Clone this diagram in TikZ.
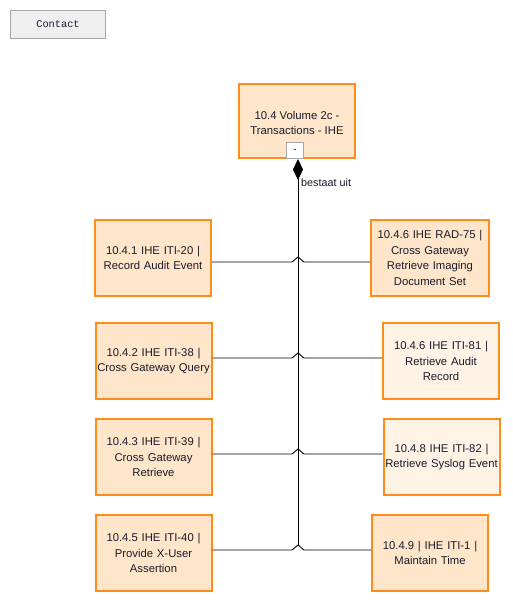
\documentclass[tikz,border=0pt]{standalone}
\usepackage{fontspec}
\setmainfont{Liberation Sans}
\setmonofont{Liberation Mono}
\usetikzlibrary{arrows.meta}
\definecolor{boxorange}{HTML}{FF8C1A}
\definecolor{boxfill}{HTML}{FFE6CA}
\definecolor{boxlight}{HTML}{FFF3E6}
\definecolor{contactfill}{HTML}{EFEFEF}
\definecolor{contactline}{HTML}{A6A6A6}
\definecolor{txt}{HTML}{1A1A2A}
\tikzset{
  elem/.style={draw=boxorange, line width=2pt, fill=boxfill, minimum height=76pt,
    minimum width=116pt, inner xsep=0pt, inner ysep=2pt, align=center, text width=116pt, text=txt,
    font=\fontsize{11.3pt}{15.5pt}\selectfont},
  elemlight/.style={elem, fill=boxlight},
  conn/.style={draw=black, line width=0.9pt},
}
\begin{document}
\begin{tikzpicture}[x=1pt,y=-1pt]
\useasboundingbox[fill=white] (0,0) rectangle (512,604);
% contact button
\node[draw=contactline, fill=contactfill, line width=1pt, minimum width=95pt, minimum height=28pt, text=txt,
  font=\ttfamily\fontsize{10.3pt}{12pt}\selectfont] (contact) at (58,24.5) {Contact};
% top element
\node[elem, minimum height=74pt, text width=0pt] (top) at (297,121) {};
\node[font=\fontsize{11.3pt}{15pt}\selectfont, align=center, text=txt] (toptext) at (297,122.5) {10.4 Volume 2c -\\Transactions - IHE};
\node[draw=contactline, fill=white, line width=0.8pt, minimum width=17pt, minimum height=16pt,
  inner sep=0pt, font=\fontsize{10pt}{12pt}\selectfont] (minus) at (295,150.5) {-};
% left elements
\node[elem] (L1) at (153,258) {10.4.1 IHE ITI-20 |\\Record Audit Event};
\node[elem] (L2) at (153.5,361) {10.4.2 IHE ITI-38 |\\Cross Gateway Query};
\node[elem] (L3) at (153.5,457) {10.4.3 IHE ITI-39 |\\Cross Gateway\\Retrieve};
\node[elem] (L4) at (153.5,553) {10.4.5 IHE ITI-40 |\\Provide X-User\\Assertion};
% right elements
\node[elem, minimum width=118pt, text width=118pt] (R1) at (430,258) {10.4.6 IHE RAD-75 |\\Cross Gateway\\Retrieve Imaging\\Document Set};
\node[elemlight] (R2) at (441,361) {10.4.6 IHE ITI-81 |\\Retrieve Audit\\Record};
\node[elemlight] (R3) at (441.5,457) {10.4.8 IHE ITI-82 |\\Retrieve Syslog Event};
\node[elem] (R4) at (430,553) {10.4.9 | IHE ITI-1 |\\Maintain Time};
% hop coordinates
\foreach \i/\yy in {1/262,2/358,3/454,4/550}{
  \coordinate (ha\i) at (292,\yy);
  \coordinate (hp\i) at (298,\yy-5);
  \coordinate (hb\i) at (304,\yy);
}
% trunk with composition diamond
\draw[conn, {Diamond[length=21pt,width=10pt,fill=black]}-] (top.south -| hp1) -- (hp4);
% horizontal connectors with hops
\foreach \i in {1,2,3,4}{
  \draw[conn] (L\i.east |- ha\i) -- (ha\i) -- (hp\i) -- (hb\i) -- (R\i.west |- hb\i);
}
\node[anchor=west, inner sep=0pt, text=txt, font=\fontsize{10.8pt}{12pt}\selectfont] (lbl) at (301,183) {bestaat uit};
\end{tikzpicture}
\end{document}
